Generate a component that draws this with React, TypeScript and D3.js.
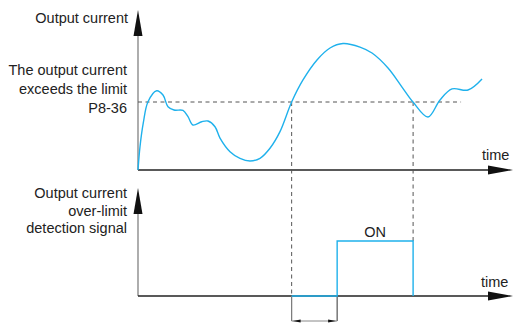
import React from "react";
import * as d3 from "d3";

// time (arbitrary units) and output current (arbitrary units)
const curveTime = [0, 0.57, 1.51, 2.86, 5.34, 7.14, 8.57, 10.29, 12.86, 14.29, 15.71, 18.2, 20, 22, 23.43, 26.29, 29.14, 32, 34.86, 37.71, 40.57, 43.9, 47.14, 51.14, 54.86, 58.57, 63.43, 66.86, 71.43, 75.43, 78.57, 82.86, 86.29, 89.71, 94.29, 98.29];
const curveCurrent = [0, 1.71, 3.46, 5.02, 5.83, 5.51, 4.65, 4.41, 4.38, 3.92, 3.31, 3.55, 3.6, 3.18, 2.35, 1.35, 0.86, 0.66, 0.86, 1.6, 2.82, 5, 6.62, 8.09, 8.97, 9.3, 9.04, 8.6, 7.5, 6.1, 5, 3.9, 5.15, 5.96, 5.88, 6.69];
const limitValue = 5;
const limitEnd = 92.3;
const crossTimes = [43.9, 78.6];
const signalTime = [43.9, 56.9, 56.9, 78.6, 78.6];
const signalValue = [0, 0, 1, 1, 0];

const labelsTopAxis = ["Output current"];
const labelsLimit = ["The output current", "exceeds the limit", "P8-36"];
const labelsBottomAxis = ["Output current", "over-limit", "detection signal"];
const timeLabel = "time";
const onLabel = "ON";

const W = 515;
const H = 323;

export default function App() {
  const x = d3.scaleLinear().domain([0, 100]).range([138, 488]);
  const yTop = d3.scaleLinear().domain([0, 5]).range([170, 102]);
  const yBot = d3.scaleLinear().domain([0, 1]).range([296, 241]);

  const curvePts: [number, number][] = curveTime.map((t, i) => [x(t), yTop(curveCurrent[i])]);
  const line = d3.line<[number, number]>().x((d) => d[0]).y((d) => d[1]).curve(d3.curveCatmullRom.alpha(0.5));
  const sigPts: [number, number][] = signalTime.map((t, i) => [x(t), yBot(signalValue[i])]);
  const sigLine = d3.line<[number, number]>().x((d) => d[0]).y((d) => d[1]);

  const x0 = x(0);
  const xEnd = 513;
  const topBase = yTop(0);
  const botBase = yBot(0);
  const limitY = yTop(limitValue);
  const xc1 = x(crossTimes[0]);
  const xc2 = x(crossTimes[1]);
  const xOn = x(signalTime[1]);
  const bracketY = 321;

  const font = "'Liberation Sans', Arial, sans-serif";
  const txt = "#222";
  const blue = "#1fb1ec";

  const upArrow = (cx: number, tip: number, base: number) =>
    `M${cx},${tip} L${cx + 4.5},${base} L${cx - 4.5},${base} Z`;
  const rightArrow = (cy: number, tip: number, base: number) =>
    `M${tip},${cy} L${base},${cy - 4.5} L${base},${cy + 4.5} Z`;

  return (
    <svg width={W} height={H} style={{ position: "absolute", left: 0, top: 0 }} xmlns="http://www.w3.org/2000/svg">
      <rect width={W} height={H} fill="#fff" />
      {/* top panel axes */}
      <line x1={x0} y1={topBase} x2={x0} y2={30} stroke="#777" strokeWidth={1.2} />
      <path d={upArrow(x0, 10, 36)} fill="#111" />
      <line x1={x0} y1={topBase} x2={490} y2={topBase} stroke="#222" strokeWidth={1.3} />
      <path d={rightArrow(topBase, xEnd, 488)} fill="#111" />

      {/* bottom panel axes */}
      <line x1={x0} y1={botBase} x2={x0} y2={205} stroke="#777" strokeWidth={1.2} />
      <path d={upArrow(x0, 188, 214)} fill="#111" />
      <line x1={x0} y1={botBase} x2={490} y2={botBase} stroke="#222" strokeWidth={1.3} />
      <path d={rightArrow(botBase, xEnd, 488)} fill="#111" />

      {/* limit dashed line */}
      <line x1={x0} y1={limitY} x2={x(limitEnd)} y2={limitY} stroke="#555" strokeWidth={1} strokeDasharray="4,3.5" />
      {/* dashed verticals */}
      <line x1={xc1} y1={limitY} x2={xc1} y2={botBase} stroke="#555" strokeWidth={1} strokeDasharray="4,3.5" />
      <line x1={xc2} y1={limitY} x2={xc2} y2={yBot(1)} stroke="#555" strokeWidth={1} strokeDasharray="4,3.5" />

      {/* delay bracket */}
      <line x1={xc1} y1={botBase} x2={xc1} y2={bracketY} stroke="#777" strokeWidth={1.2} />
      <line x1={xOn} y1={botBase} x2={xOn} y2={bracketY} stroke="#555" strokeWidth={1.2} />
      <line x1={xc1} y1={bracketY} x2={xOn} y2={bracketY} stroke="#888" strokeWidth={1} />
      <path d={`M${xc1 + 1},${bracketY} L${xc1 + 9},${bracketY - 1.6} L${xc1 + 9},${bracketY + 1.6} Z`} fill="#111" />
      <path d={`M${xOn - 1},${bracketY} L${xOn - 9},${bracketY - 1.6} L${xOn - 9},${bracketY + 1.6} Z`} fill="#111" />

      {/* curve */}
      <path d={line(curvePts) || ""} fill="none" stroke={blue} strokeWidth={1.4} />
      {/* signal */}
      <path d={sigLine(sigPts) || ""} fill="none" stroke={blue} strokeWidth={1.4} />

      {/* text */}
      <g fontFamily={font} fontSize={14.5} fill={txt} textAnchor="end">
        {labelsTopAxis.map((s, i) => (
          <text key={"a" + i} x={128} y={23 + i * 18}>{s}</text>
        ))}
        {labelsLimit.map((s, i) => (
          <text key={"b" + i} x={127} y={75 + i * 19}>{s}</text>
        ))}
        {labelsBottomAxis.map((s, i) => (
          <text key={"c" + i} x={127} y={198 + i * 17.5}>{s}</text>
        ))}
      </g>
      <g fontFamily={font} fontSize={14.5} fill={txt}>
        <text x={482} y={160}>{timeLabel}</text>
        <text x={481} y={287}>{timeLabel}</text>
        <text x={(xOn + xc2) / 2} y={237} textAnchor="middle">{onLabel}</text>
      </g>
    </svg>
  );
}
